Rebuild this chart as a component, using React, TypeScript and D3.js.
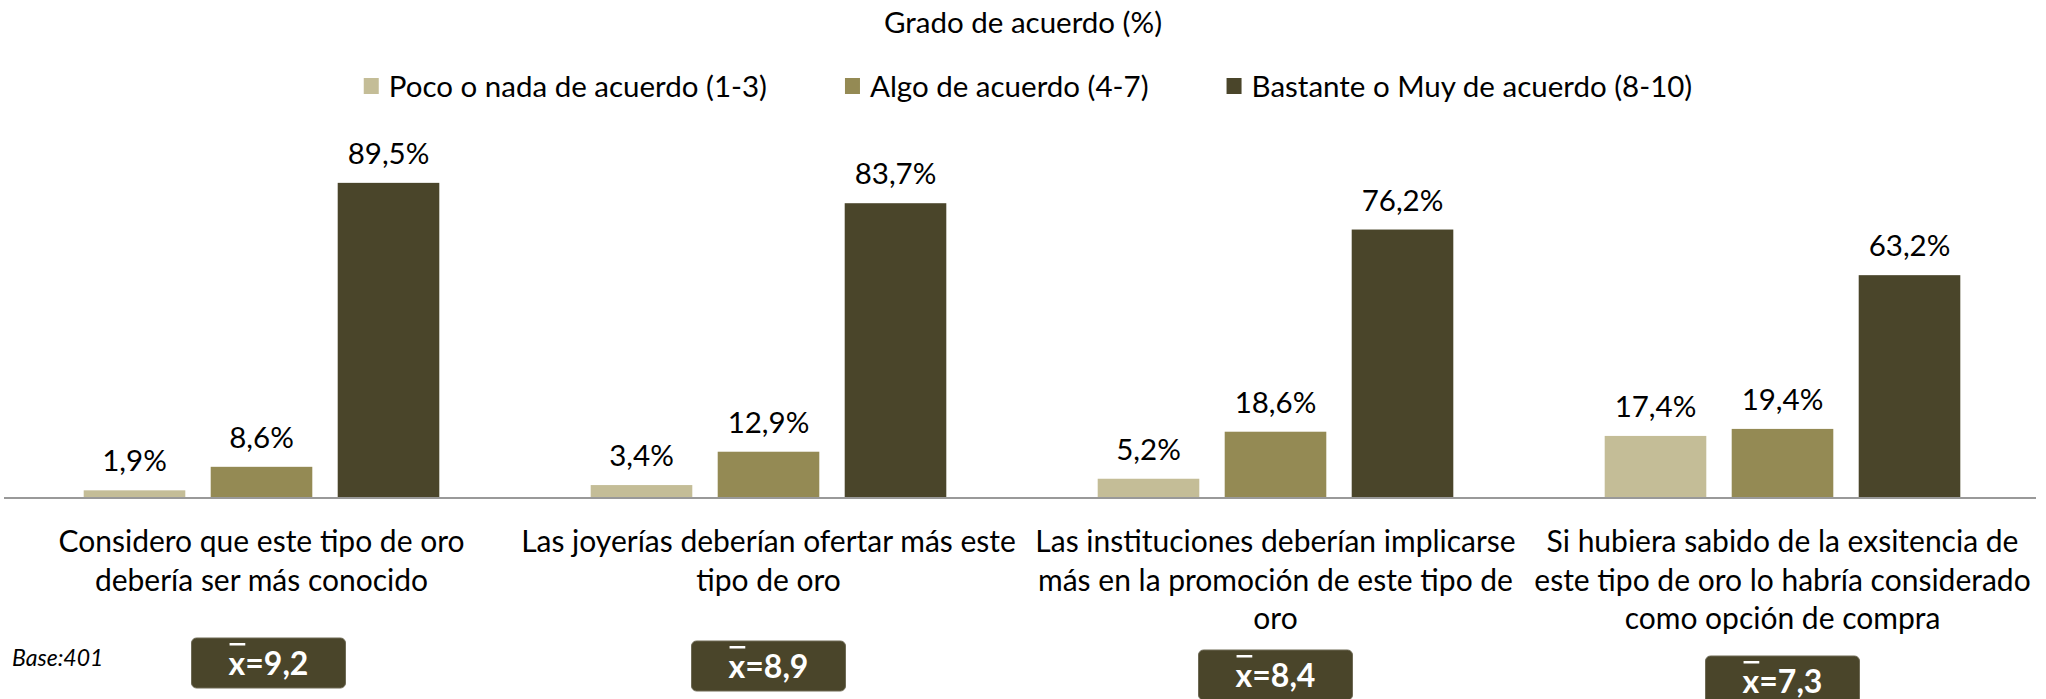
import React, { useEffect, useRef } from 'react';
import * as d3 from 'd3';

const title = 'Grado de acuerdo (%)';

const series = [
  'Poco o nada de acuerdo (1-3)',
  'Algo de acuerdo (4-7)',
  'Bastante o Muy de acuerdo (8-10)',
];
const seriesColors = ['#C4BD97', '#948A54', '#4A452A'];

// category labels, already split in lines as in the source
const categories = [
  ['Considero que este tipo de oro', 'debería ser más conocido'],
  ['Las joyerías deberían ofertar más este', 'tipo de oro'],
  ['Las instituciones deberían implicarse', 'más en la promoción de este tipo de', 'oro'],
  ['Si hubiera sabido de la exsitencia de', 'este tipo de oro lo habría considerado', 'como opción de compra'],
];

const pocoValues = [1.9, 3.4, 5.2, 17.4];
const algoValues = [8.6, 12.9, 18.6, 19.4];
const bastanteValues = [89.5, 83.7, 76.2, 63.2];

const means = ['9,2', '8,9', '8,4', '7,3'];
const baseLabel = 'Base:401';

const W = 2046;
const H = 699;
const FONT = "Lato, 'Open Sans', sans-serif";

const App: React.FC = () => {
  const svgRef = useRef<SVGSVGElement>(null);

  useEffect(() => {
    document.body.style.margin = '0';
    if (!svgRef.current) return;
    const svg = d3.select(svgRef.current);
    svg.selectAll('*').remove();

    const allValues = [pocoValues, algoValues, bastanteValues];
    const keys = categories.map((_, i) => String(i));

    const x0 = d3.scaleBand<string>()
      .domain(keys)
      .range([8, 2036])
      .paddingInner(0.2485)
      .paddingOuter(0.12425);

    const x1 = d3.scaleBand<string>()
      .domain(series)
      .range([0, x0.bandwidth()])
      .paddingInner(0.2)
      .paddingOuter(0.1);

    const y = d3.scaleLinear().domain([0, 100]).range([497, 146]);

    // title
    svg.append('text')
      .attr('x', 1023)
      .attr('y', 33)
      .attr('text-anchor', 'middle')
      .attr('font-family', FONT)
      .attr('font-size', 29.5)
      .attr('fill', '#000')
      .text(title);

    // legend, centred
    const legend = svg.append('g');
    const items = series.map((s, i) => {
      const g = legend.append('g');
      g.append('rect')
        .attr('x', 0)
        .attr('y', 78)
        .attr('width', 15)
        .attr('height', 16)
        .attr('fill', seriesColors[i]);
      const t = g.append('text')
        .attr('x', 25)
        .attr('y', 97)
        .attr('font-family', FONT)
        .attr('font-size', 29.5)
        .attr('fill', '#000')
        .text(s);
      const w = (t.node() as SVGTextElement).getComputedTextLength();
      return { g, w: 25 + w };
    });
    const gap = 78;
    const total = d3.sum(items, d => d.w) + gap * (items.length - 1);
    let cx = 1028 - total / 2;
    items.forEach(it => {
      it.g.attr('transform', `translate(${cx},0)`);
      cx += it.w + gap;
    });

    // bars
    keys.forEach((k, ci) => {
      const g = svg.append('g').attr('transform', `translate(${x0(k)},0)`);
      series.forEach((s, si) => {
        const v = allValues[si][ci];
        const bx = x1(s) as number;
        g.append('rect')
          .attr('x', bx)
          .attr('y', y(v))
          .attr('width', x1.bandwidth())
          .attr('height', y(0) - y(v))
          .attr('fill', seriesColors[si]);
        g.append('text')
          .attr('x', bx + x1.bandwidth() / 2)
          .attr('y', y(v) - 19)
          .attr('text-anchor', 'middle')
          .attr('font-family', FONT)
          .attr('font-size', 29.5)
          .attr('fill', '#000')
          .text(`${String(v).replace('.', ',')}%`);
      });
    });

    // axis line
    svg.append('line')
      .attr('x1', 4)
      .attr('x2', 2036)
      .attr('y1', 498)
      .attr('y2', 498)
      .attr('stroke', '#999999')
      .attr('stroke-width', 2);

    // category labels
    keys.forEach((k, ci) => {
      const cxc = (x0(k) as number) + x0.bandwidth() / 2;
      const t = svg.append('text')
        .attr('text-anchor', 'middle')
        .attr('font-family', FONT)
        .attr('font-size', 30)
        .attr('fill', '#000');
      categories[ci].forEach((line, li) => {
        t.append('tspan')
          .attr('x', cxc)
          .attr('y', 552 + li * 38.5)
          .text(line);
      });

      // mean box
      const lines = categories[ci].length;
      const top = lines > 2 ? 650 + (ci - 2) * 6 : 638 + ci * 3;
      const bw = 154;
      const bh = 50;
      const bxc = cxc + (ci === 0 ? 7 : 0);
      svg.append('rect')
        .attr('x', bxc - bw / 2)
        .attr('y', top)
        .attr('width', bw)
        .attr('height', bh)
        .attr('rx', 5)
        .attr('fill', '#4A452A')
        .attr('stroke', '#6e6a55')
        .attr('stroke-width', 1);
      const mt = svg.append('text')
        .attr('x', bxc)
        .attr('y', top + 37)
        .attr('text-anchor', 'middle')
        .attr('font-family', FONT)
        .attr('font-weight', 'bold')
        .attr('font-size', 32)
        .attr('fill', '#fff');
      mt.append('tspan').text('x');
      mt.append('tspan').text(`=${means[ci]}`);
      const tw = (mt.node() as SVGTextElement).getComputedTextLength();
      const xw = ((mt.select('tspan').node()) as SVGTextElement).getComputedTextLength();
      const xs = bxc - tw / 2;
      svg.append('rect')
        .attr('x', xs + 1)
        .attr('y', top + 5)
        .attr('width', xw - 1)
        .attr('height', 2.5)
        .attr('fill', '#fff');
    });

    // base note
    svg.append('text')
      .attr('x', 12)
      .attr('y', 666)
      .attr('font-family', FONT)
      .attr('font-style', 'italic')
      .attr('font-size', 23)
      .attr('fill', '#000')
      .text(baseLabel);
  }, []);

  return <svg ref={svgRef} width={W} height={H} style={{ display: 'block', background: '#fff' }} />;
};

export default App;
